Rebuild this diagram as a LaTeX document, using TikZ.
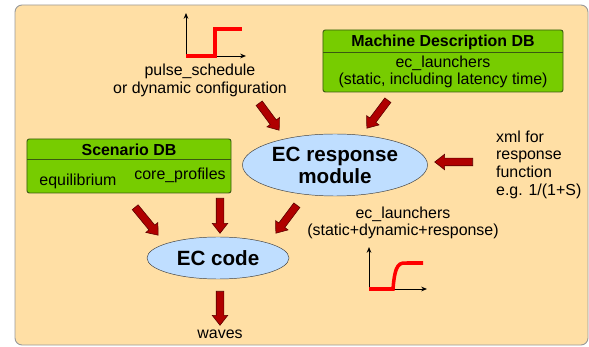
\documentclass[tikz,border=0pt]{standalone}
\usepackage{fontspec}
\setmainfont{Liberation Sans}
\usetikzlibrary{shapes.geometric,shapes.arrows,calc,arrows.meta}
\definecolor{bgpeach}{HTML}{FFDFA5}
\definecolor{dbgreen}{HTML}{77CC00}
\definecolor{dbedge}{HTML}{3A5A10}
\definecolor{bubbleblue}{HTML}{BFDEFF}
\definecolor{bubbleedge}{HTML}{404040}
\definecolor{arrowred}{HTML}{B00000}
\definecolor{arrowedge}{HTML}{5A0000}
\newcommand{\normtext}{\fontsize{13.6}{15.1}\selectfont}
\newcommand{\bigbold}{\fontsize{17.6}{18.8}\selectfont\bfseries}
\newcommand{\fatarrow}[2]{\path let \p1=($(#2)-(#1)$) in node[redarrow,rotate={atan2(\y1,\x1)},minimum height={veclen(\x1,\y1)}] at (#1) {};}
\begin{document}
\begin{tikzpicture}[x=0.03cm,y=-0.03cm,
  every node/.style={font=\normtext},
  dbbox/.style={draw=dbedge,fill=dbgreen,rounded corners=2pt,line width=0.8pt},
  bubble/.style={ellipse,draw=bubbleedge,fill=bubbleblue,font=\bigbold,align=center,inner sep=0pt},
  redarrow/.style={single arrow,draw=arrowedge,fill=arrowred,line width=0.5pt,inner xsep=0pt,inner ysep=0.105cm,single arrow head extend=0.12cm,single arrow tip angle=76,anchor=tail},
  axis/.style={-{Stealth[length=5pt,width=4pt]},line width=0.8pt},
  signal/.style={red,line width=3pt}]
\useasboundingbox (0,0) rectangle (589,347);
\draw[draw=gray!80,fill=bgpeach,rounded corners=6pt,line width=0.8pt] (15,5) rectangle (588,345);
% pulse_schedule input
\coordinate (p1o) at (186,56);
\draw[axis] (p1o) -- (186,13);
\draw[axis] (p1o) -- (246,56);
\draw[signal] (p1o) -- (215,56) -- (215,29) -- (242,29);
\node[align=center] (pulse) at (200,80.5) {pulse\_schedule\\or dynamic configuration};
% databases
\node[dbbox,minimum width=7.2cm,minimum height=1.86cm] (mdb) at (443,61) {};
\draw[dbedge,line width=0.8pt] (323,52) -- (563,52);
\node[font=\normtext\bfseries] (mdbhead) at (443,42) {Machine Description DB};
\node[align=center] (mdbtext) at (443,72) {ec\_launchers\\(static, including latency time)};
\node[dbbox,minimum width=6.12cm,minimum height=1.62cm] (sdb) at (129,166) {};
\draw[dbedge,line width=0.8pt] (27,159) -- (231,159);
\node[font=\normtext\bfseries] (sdbhead) at (129,149.5) {Scenario DB};
\node (equil) at (78,181) {equilibrium};
\node (core) at (180,175) {core\_profiles};
% codes
\node[bubble,minimum width=5.55cm,minimum height=1.86cm] (resp) at (335,165) {EC response\\module};
\node[bubble,minimum width=4.26cm,minimum height=1.26cm] (code) at (218,258) {EC code};
\node[align=left,anchor=west] (xml) at (492,164.5) {xml for\\response\\function\\e.g. 1/(1+S)};
\node[align=center] (launch) at (403,223) {ec\_launchers\\(static+dynamic+response)};
\node (waves) at (220,334) {waves};
% response output
\coordinate (p2o) at (369,289);
\draw[axis] (p2o) -- (369,247);
\draw[axis] (p2o) -- (427,289);
\draw[signal] (p2o) -- (393,289) .. controls (395,262) and (400,263) .. (407,263) -- (423,263);
% flow arrows
\coordinate (pulseout) at (259,103); \coordinate (respin1) at (279,130);
\coordinate (mdbout) at (388,100); \coordinate (respin2) at (367,128);
\coordinate (xmlout) at (473,162); \coordinate (respin3) at (435,162);
\coordinate (sdbout1) at (135,207); \coordinate (codein1) at (158,235);
\coordinate (sdbout2) at (220,198); \coordinate (codein2) at (220,233);
\coordinate (respout) at (297,205); \coordinate (codein3) at (276,233);
\coordinate (codeout) at (220,291); \coordinate (wavesin) at (220,325);
\foreach \s/\t in {pulseout/respin1,mdbout/respin2,xmlout/respin3,sdbout1/codein1,sdbout2/codein2,respout/codein3,codeout/wavesin}
  {\fatarrow{\s}{\t}}
\end{tikzpicture}
\end{document}
